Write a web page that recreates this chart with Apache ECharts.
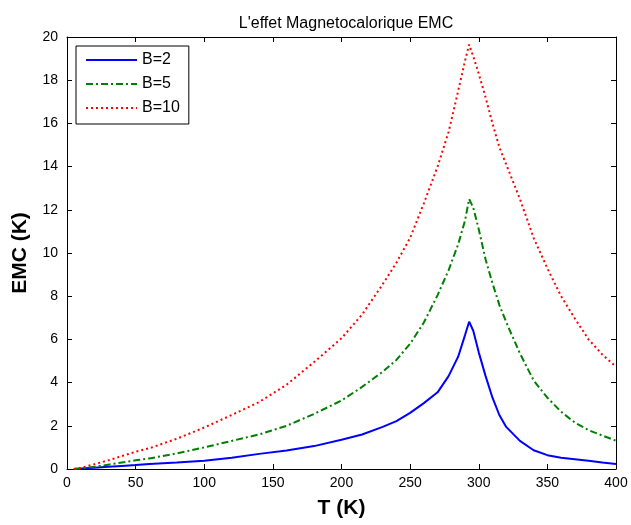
<!DOCTYPE html>
<html>
<head>
<meta charset="utf-8">
<script src="https://cdn.jsdelivr.net/npm/echarts@6/dist/echarts.min.js"></script>
<style>
    html, body { margin: 0; padding: 0; background: #fff; }
    #chart { width: 631px; height: 525px; }
</style>
</head>
<body>
<div id="chart"></div>
<script>
// temperatures (K) at which the curves were read
const temps = [5, 10, 20, 30, 40, 50, 60, 80, 100, 120, 140, 160, 180, 200, 215, 230, 240, 250, 260, 270,
    278, 285, 290, 293, 296, 300, 305, 310, 315, 320, 330, 340, 350, 360, 370, 380, 390, 400]
const emcB2 = [0, 0.02, 0.06, 0.1, 0.14, 0.18, 0.23, 0.3, 0.38, 0.52, 0.7, 0.86, 1.06, 1.35, 1.6, 1.95, 2.22, 2.6, 3.05, 3.55,
    4.3, 5.2, 6.2, 6.82, 6.4, 5.4, 4.3, 3.3, 2.5, 1.95, 1.3, 0.87, 0.64, 0.52, 0.45, 0.38, 0.3, 0.23]
const emcB5 = [0, 0.02, 0.1, 0.2, 0.3, 0.4, 0.49, 0.72, 1.0, 1.3, 1.6, 2.0, 2.55, 3.17, 3.8, 4.5, 5.05, 5.8, 6.78, 8.05,
    9.2, 10.4, 11.5, 12.5, 12.1, 11.1, 9.7, 8.6, 7.6, 6.8, 5.35, 4.1, 3.3, 2.65, 2.15, 1.8, 1.55, 1.31]
const emcB10 = [0, 0.05, 0.22, 0.4, 0.6, 0.8, 0.96, 1.4, 1.92, 2.5, 3.1, 3.9, 4.95, 6.05, 7.15, 8.55, 9.55, 10.7, 12.3, 14.0,
    15.6, 17.5, 18.9, 19.65, 19.1, 18.3, 17.2, 16.0, 14.9, 14.1, 12.5, 10.7, 9.29, 8.0, 6.97, 6.0, 5.3, 4.74]
const seriesNames = ['B=2', 'B=5', 'B=10']

const font = '"Liberation Sans", Arial, sans-serif'
const pairs = vals => temps.map((t, i) => [t, vals[i]])

const chart = echarts.init(document.getElementById('chart'))

// MATLAB style box: ticks inside on all four sides
function xAx(pos, extra) {
    return Object.assign({
        type: 'value', min: 0, max: 400, interval: 50, position: pos,
        axisLine: { show: true, onZero: false, lineStyle: { color: '#000', width: 1 } },
        axisTick: { show: true, inside: true, length: 5, lineStyle: { color: '#000' } },
        splitLine: { show: false },
        axisLabel: { show: false },
    }, extra)
}
function yAx(pos, extra) {
    return Object.assign({
        type: 'value', min: 0, max: 20, interval: 2, position: pos,
        axisLine: { show: true, onZero: false, lineStyle: { color: '#000', width: 1 } },
        axisTick: { show: true, inside: true, length: 5, lineStyle: { color: '#000' } },
        splitLine: { show: false },
        axisLabel: { show: false },
    }, extra)
}

chart.setOption({
    animation: false,
    backgroundColor: '#fff',
    title: {
        text: "L'effet Magnetocalorique EMC",
        left: 341, top: 11, textAlign: 'center',
        textStyle: { fontFamily: font, fontSize: 16, fontWeight: 'normal', color: '#000' },
    },
    grid: { left: 67, right: 15, top: 37, bottom: 56 },
    legend: {
        data: seriesNames,
        orient: 'vertical',
        left: 76, top: 46,
        padding: [6, 9, 8, 9],
        itemWidth: 51, itemHeight: 12, itemGap: 8,
        borderColor: '#000', borderWidth: 1,
        backgroundColor: '#fff',
        itemStyle: { opacity: 0 },
        textStyle: { fontFamily: font, fontSize: 16, color: '#000' },
    },
    xAxis: [
        xAx('bottom', {
            name: 'T (K)', nameLocation: 'middle', nameGap: 29,
            nameTextStyle: { fontFamily: font, fontSize: 21, fontWeight: 'bold', color: '#000' },
            axisLabel: { show: true, fontFamily: font, fontSize: 14, color: '#000', margin: 7 },
        }),
        xAx('top'),
    ],
    yAxis: [
        yAx('left', {
            name: 'EMC (K)', nameLocation: 'middle', nameGap: 36,
            nameTextStyle: { fontFamily: font, fontSize: 21, fontWeight: 'bold', color: '#000' },
            axisLabel: { show: true, fontFamily: font, fontSize: 14, color: '#000', margin: 9 },
        }),
        yAx('right'),
    ],
    series: [
        {
            name: 'B=2', type: 'line', data: pairs(emcB2),
            symbol: 'none', color: '#0000ff',
            lineStyle: { width: 2, color: '#0000ff' },
        },
        {
            name: 'B=5', type: 'line', data: pairs(emcB5),
            symbol: 'none', color: '#008000',
            lineStyle: { width: 2, color: '#008000', type: [7, 3, 2, 3] },
        },
        {
            name: 'B=10', type: 'line', data: pairs(emcB10),
            symbol: 'none', color: '#ff0000',
            lineStyle: { width: 2, color: '#ff0000', type: [2, 3] },
        },
    ],
})
</script>
</body>
</html>
